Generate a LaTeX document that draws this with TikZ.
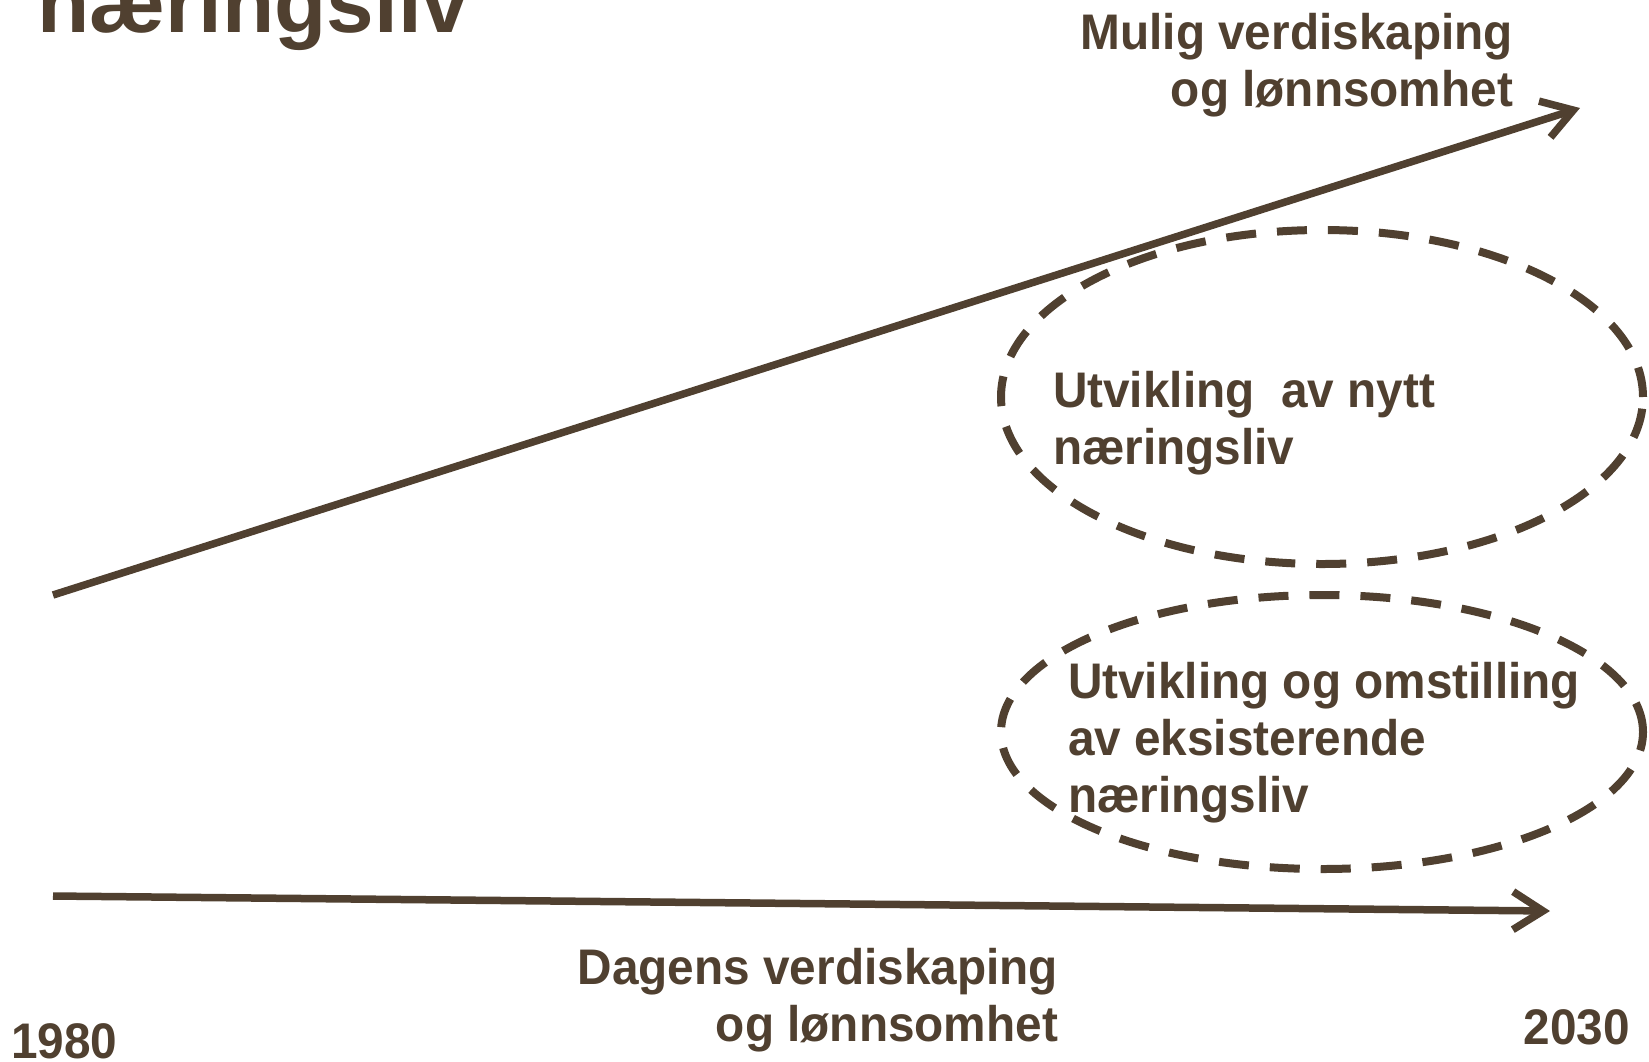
\documentclass[tikz,border=0pt]{standalone}
\usepackage{fontspec}
\setmainfont{Liberation Sans}
\newfontfamily\lblfont[FakeStretch=0.955]{Liberation Sans}
\usetikzlibrary{arrows.meta,shapes.geometric}
\definecolor{brn}{RGB}{80,64,48}
\begin{document}
\begin{tikzpicture}[x=1pt,y=-1pt,
  lbl/.style={inner sep=0pt, outer sep=0pt, text=brn, font=\lblfont\fontsize{50}{57}\selectfont\bfseries},
  ttl/.style={inner sep=0pt, outer sep=0pt, text=brn, font=\fontsize{85.5}{90}\selectfont\bfseries},
  arr/.style={draw=brn, line width=7.5pt, -{Straight Barb[length=30pt,width=38pt]}},
  oval/.style={ellipse, draw=brn, line width=8pt, dash pattern=on 30pt off 21pt, inner sep=0pt}
]
\useasboundingbox (0,0) rectangle (1649,1061);

\node[ttl, anchor=base west] (title) at (37,32) {næringsliv};

\node[oval, minimum width=642pt, minimum height=334pt] (e1) at (1322,397) {};
\node[oval, minimum width=642pt, minimum height=274pt] (e2) at (1322,732) {};

\coordinate (a1s) at (53,595);
\coordinate (a1e) at (1580,108);
\draw[arr] (a1s) -- (a1e);

\coordinate (a2s) at (53,896);
\coordinate (a2e) at (1550,911);
\draw[arr] (a2s) -- (a2e);

\node[lbl, anchor=base east, align=right] (mulig) at (1513,106) {Mulig verdiskaping\\og lønnsomhet};
\node[lbl, anchor=base west, align=left] (t1) at (1053,464) {Utvikling\ \ av nytt\\næringsliv};
\node[lbl, anchor=base west, align=left] (t2) at (1068,812) {Utvikling og omstilling\\av eksisterende\\næringsliv};
\node[lbl, anchor=base east, align=right] (dagens) at (1058,1041) {Dagens verdiskaping\\og lønnsomhet};
\node[lbl, anchor=base west] (y1) at (11,1058) {1980};
\node[lbl, anchor=base east] (y2) at (1630,1044) {2030};
\end{tikzpicture}
\end{document}
